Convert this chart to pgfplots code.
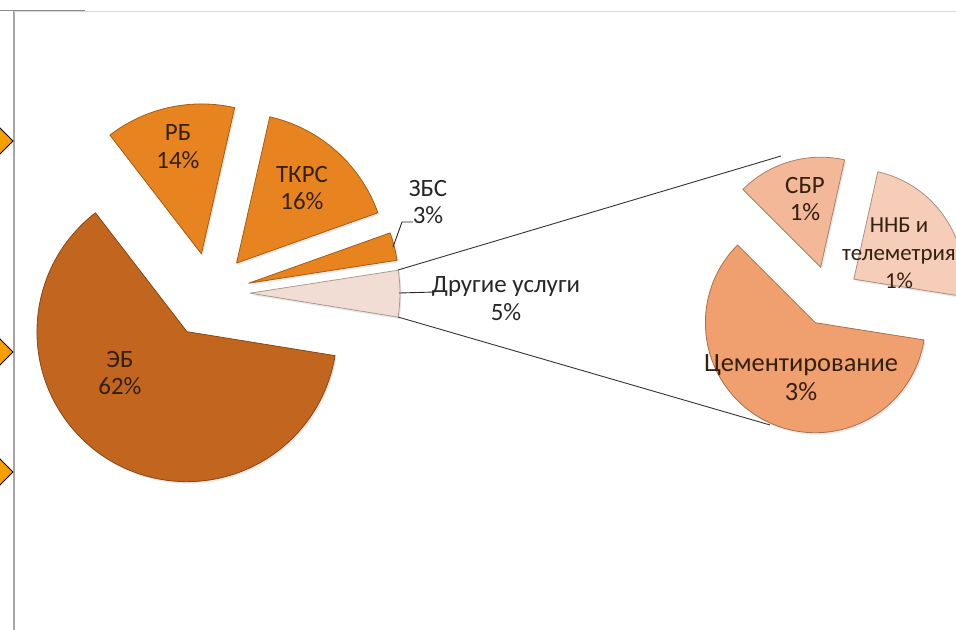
\documentclass[border=0pt]{standalone}
\usepackage{pgfplots}
\pgfplotsset{compat=1.18}
\usetikzlibrary{shadows}
\usepackage{fontspec}
\setmainfont{Carlito}

\definecolor{ebcol}{HTML}{C2651E}
\definecolor{mcol}{HTML}{E8841F}
\definecolor{drcol}{HTML}{F2DDD4}
\definecolor{cemcol}{HTML}{F0A06E}
\definecolor{sbrcol}{HTML}{F2B898}
\definecolor{nnbcol}{HTML}{F5CDB8}
\definecolor{txtcol}{HTML}{33200F}

% one slice: centre x, centre y (picture px, y down), value in %, explosion, radius, colour
% start angle is taken from \acur and moved on by the slice
\newcommand{\slice}[6]{%
  \pgfmathsetmacro\aend{\acur+3.6*#3}%
  \pgfmathsetmacro\amid{(\acur+\aend)/2}%
  \pgfmathsetmacro\tx{#1+#4*cos(\amid)}%
  \pgfmathsetmacro\ty{#2-#4*sin(\amid)}%
  \edef\next{\noexpand\fill[#6,draw=#6!70!black,line width=0.8bp,line join=round,
      drop shadow={opacity=0.18,shadow xshift=1.5bp,shadow yshift=-2bp}]
    (axis cs:\tx,\ty) -- ++(\acur:#5bp) arc[start angle=\acur,end angle=\aend,radius=#5bp] -- cycle;}%
  \next
  \xdef\acur{\aend}%
}

\begin{document}
\begin{tikzpicture}
\begin{axis}[
  hide axis,
  scale only axis,
  width=956bp, height=630bp,
  xmin=0, xmax=956, ymin=0, ymax=630,
  y dir=reverse,
  clip=true,
]
% main pie, counterclockwise from the right
\xdef\acur{-9.2}
\slice{210}{293}{5}{40}{150}{drcol}   % Другие услуги
\slice{210}{293}{3}{40}{150}{mcol}    % ЗБС
\slice{210}{293}{16}{40}{150}{mcol}   % ТКРС
\slice{210}{293}{14}{40}{150}{mcol}   % РБ
\slice{210}{293}{62}{45}{150}{ebcol}  % ЭБ

% second pie: parts of "Другие услуги" (5 %)
\xdef\acur{-9}
\slice{829}{296}{24}{30}{110}{nnbcol}  % ННБ и телеметрия, 1.2 of 5
\slice{829}{296}{16}{30}{110}{sbrcol}  % СБР, 0.8 of 5
\slice{829}{296}{60}{30}{110}{cemcol}  % Цементирование, 3 of 5

% lines between the pies
\draw[black!80, line width=0.9bp] (axis cs:398,270) -- (axis cs:781,156);
\draw[black!80, line width=0.9bp] (axis cs:398,317) -- (axis cs:770,425);
% leader lines
\draw[black!85, line width=0.9bp] (axis cs:393,247) -- (axis cs:402,222) -- (axis cs:413,222);
\draw[black!85, line width=0.9bp] (axis cs:399,293) -- (axis cs:435,292);

% frame of the screenshot
\draw[gray!70, line width=1.2bp] (axis cs:14,11) -- (axis cs:14,630);
\draw[gray!30, line width=1bp] (axis cs:14,11) -- (axis cs:956,11);
\draw[gray!90, line width=1bp] (axis cs:0,10) -- (axis cs:85,10);

% cut-off markers at the left edge
\addplot[only marks, mark=square*, mark size=9.2bp,
  mark options={rotate=45, fill={rgb,255:red,245;green,160;blue,0}, draw=black, line width=1bp}]
  coordinates {(0,141) (0,352) (0,472)};

% labels
\begin{scope}[every node/.style={align=center, font=\fontsize{25}{28}\selectfont}]
\node[text=txtcol] at (axis cs:178,147) {РБ\\14\%};
\node[text=txtcol] at (axis cs:302,188) {ТКРС\\16\%};
\node[text=txtcol] at (axis cs:120,373) {ЭБ\\62\%};
\node[text=black!85] at (axis cs:428,202) {ЗБС\\3\%};
\node[text=black!85] at (axis cs:506,299) {Другие услуги\\5\%};
\node[text=txtcol] at (axis cs:805,199) {СБР\\1\%};
\node[text=txtcol, inner sep=0pt, font=\fontsize{23}{28}\selectfont] at (axis cs:899,253) {ННБ и\\телеметрия\\1\%};
\node[text=txtcol, font=\fontsize{26.5}{29}\selectfont] at (axis cs:801,378) {Цементирование\\3\%};
\end{scope}
\end{axis}
\pgfresetboundingbox
\path[use as bounding box] (0,0) rectangle (956bp,630bp);
\end{tikzpicture}
\end{document}
